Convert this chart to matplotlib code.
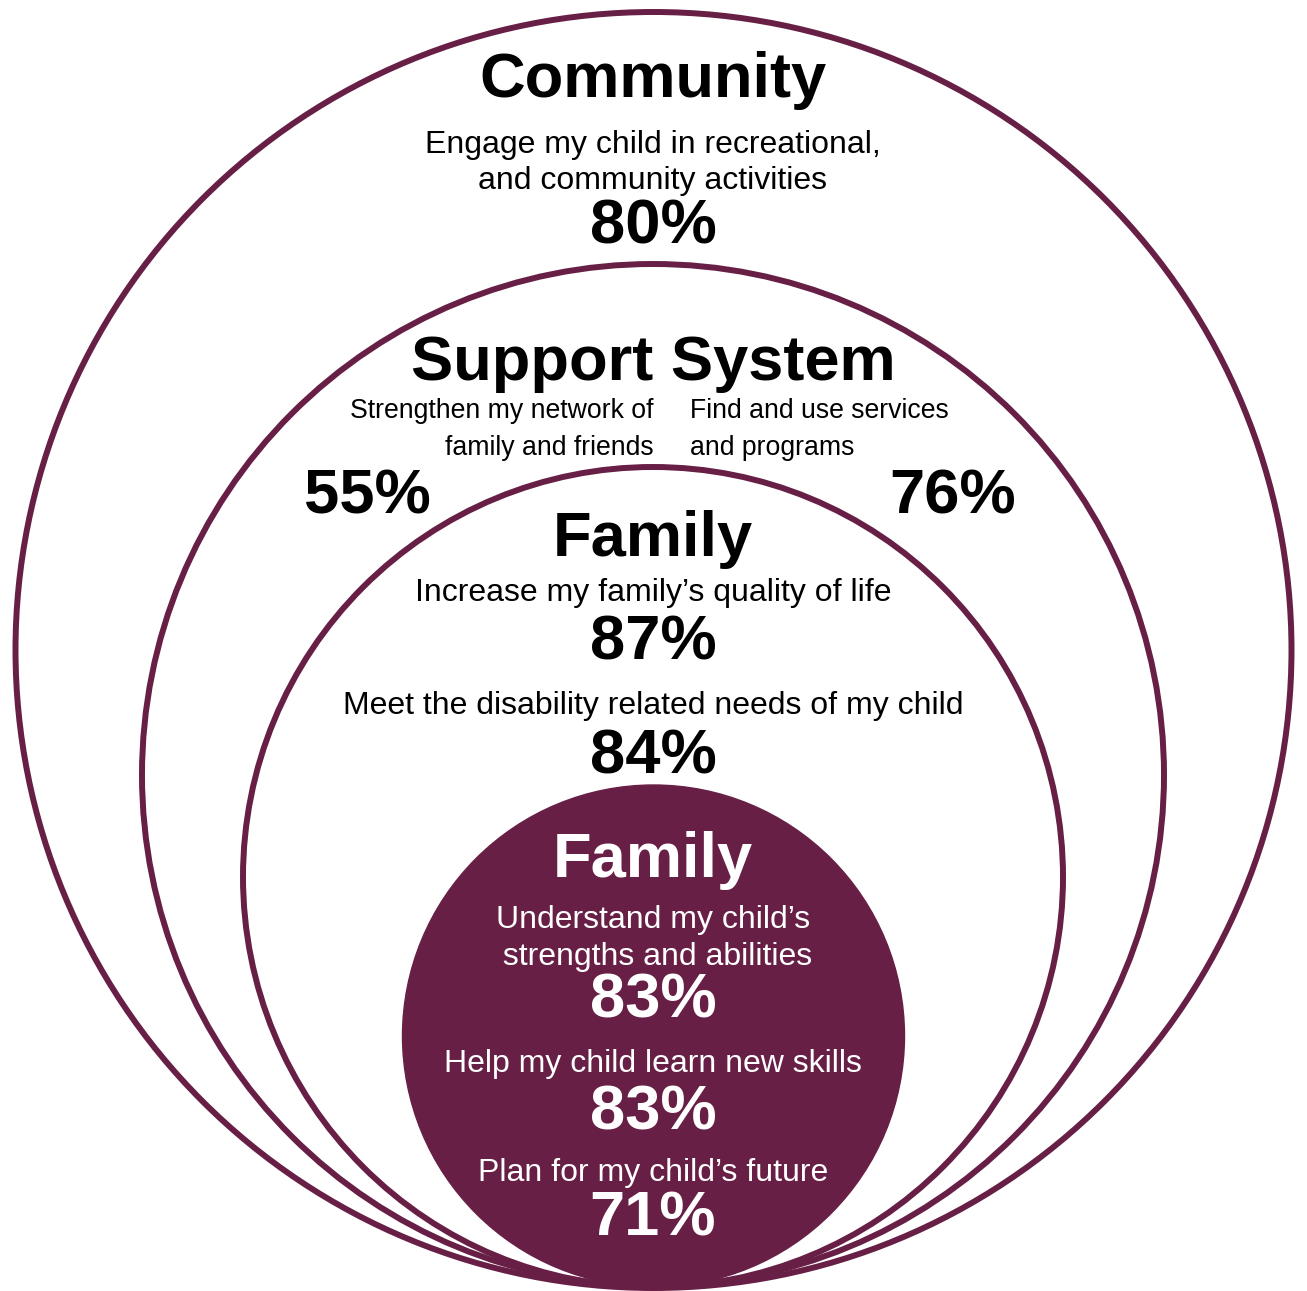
import matplotlib.pyplot as plt
from matplotlib.patches import Circle
from matplotlib import font_manager

# data
rings = ['Community', 'Support System', 'Family', 'Family']
community_items = ['Engage my child in recreational,\nand community activities']
community_pcts = ['80%']
support_items = ['Strengthen my network of\nfamily and friends', 'Find and use services\nand programs']
support_pcts = ['55%', '76%']
family_items = ['Increase my family\u2019s quality of life',
                'Meet the disability related needs of my child']
family_pcts = ['87%', '84%']
child_items = ['Understand my child\u2019s\n strengths and abilities',
               'Help my child learn new skills',
               'Plan for my child\u2019s future']
child_pcts = ['83%', '83%', '71%']

maroon = '#681F45'
names = {f.name for f in font_manager.fontManager.ttflist}
font = 'Liberation Sans'
narrow = 'Liberation Sans Narrow' if 'Liberation Sans Narrow' in names else font
nsize = 18.5 if narrow != font else 19.2

fig = plt.figure(figsize=(13.07, 12.91), dpi=100)
ax = fig.add_axes([0, 0, 1, 1])
ax.set_xlim(0, 1307)
ax.set_ylim(1291, 0)
ax.set_aspect('equal')
ax.axis('off')

# circles (cx, cy, r)
for cx, cy, r in [(653.5, 650, 638), (653, 775, 511), (653, 877, 410)]:
    ax.add_patch(Circle((cx, cy), r, fill=False, ec=maroon, lw=4.3))
ax.add_patch(Circle((653.5, 1036), 251, fc=maroon, ec=maroon, lw=1))

head = dict(fontsize=45.5, fontweight='bold', family=font, ha='center', va='baseline')
body = dict(fontsize=23, family=font, ha='center', va='baseline', linespacing=1.25)

# community
ax.text(653, 97, rings[0], **head)
ax.text(653, 189, community_items[0], **body)
ax.text(653, 243, community_pcts[0], **head)

# support system
ax.text(653, 380, rings[1], **head)
ax.text(654, 455, support_items[0], fontsize=nsize, family=narrow, ha='right', va='baseline',
        multialignment='right', linespacing=1.55)
ax.text(690, 455, support_items[1], fontsize=nsize, family=narrow, ha='left', va='baseline',
        multialignment='left', linespacing=1.55)
ax.text(367, 514, support_pcts[0], **head)
ax.text(953, 514, support_pcts[1], **head)

# family
ax.text(653, 556, rings[2], **head)
ax.text(653, 601, family_items[0], **body)
ax.text(653, 659, family_pcts[0], **head)
ax.text(653, 714, family_items[1], **body)
ax.text(653, 773, family_pcts[1], **head)

# child (filled circle)
wb = dict(body, color='white', linespacing=1.3)
wh = dict(head, color='white')
ax.text(653, 877, rings[3], **wh)
ax.text(653, 965, child_items[0], **wb)
ax.text(653, 1018, child_pcts[0], **wh)
ax.text(653, 1072, child_items[1], **wb)
ax.text(653, 1129, child_pcts[1], **wh)
ax.text(653, 1181, child_items[2], **wb)
ax.text(653, 1236, child_pcts[2], **wh)

fig.savefig('out.png', dpi=100)
